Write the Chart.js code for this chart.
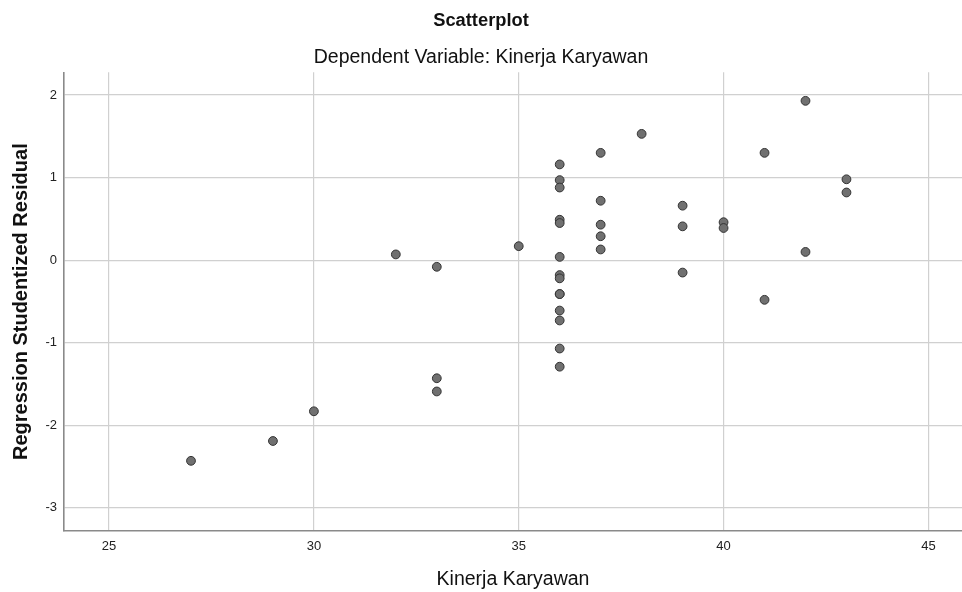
<!DOCTYPE html>
<html lang="id">
<head>
  <meta charset="UTF-8" />
  <title>Scatterplot</title>
  <script src="https://cdn.jsdelivr.net/npm/chart.js"></script>
  <style>
    html, body { margin: 0; padding: 0; background: #fff; }
    #wrap { width: 962px; height: 592px; }
  </style>
</head>
<body>
  <div id="wrap"><canvas id="myChart" width="962" height="592"></canvas></div>

  <script>
    // data
    var kinerja = [27, 29, 30, 32, 33, 33, 33, 35,
      36, 36, 36, 36, 36, 36, 36, 36, 36, 36, 36, 36, 36, 36,
      37, 37, 37, 37, 37, 38, 39, 39, 39, 40, 40, 41, 41, 42, 42, 43, 43];
    var residual = [-2.43, -2.19, -1.83, 0.07, -0.08, -1.43, -1.59, 0.17,
      1.16, 0.97, 0.88, 0.49, 0.45, 0.04, -0.18, -0.22, -0.41, -0.41, -0.61, -0.73, -1.07, -1.29,
      1.30, 0.72, 0.43, 0.29, 0.13, 1.53, 0.66, 0.41, -0.15, 0.46, 0.39, 1.30, -0.48, 1.93, 0.10, 0.98, 0.82];
    var xTicks = [25, 30, 35, 40, 45];
    var yTicks = [2, 1, 0, -1, -2, -3];

    var titleText = 'Scatterplot';
    var subtitleText = 'Dependent Variable: Kinerja Karyawan';
    var xTitle = 'Kinerja Karyawan';
    var yTitle = 'Regression Studentized Residual';

    var points = [];
    for (var i = 0; i < kinerja.length; i++) {
      points.push({ x: kinerja[i], y: residual[i] });
    }

    var font = 'Arial, "Liberation Sans", sans-serif';
    Chart.defaults.font.family = font;
    Chart.defaults.color = '#222';

    const ctx = document.getElementById('myChart');
    new Chart(ctx, {
      type: 'scatter',
      data: {
        datasets: [{
          data: points,
          backgroundColor: '#707070',
          borderColor: '#333333',
          borderWidth: 1,
          pointRadius: 4.4,
          pointHoverRadius: 4.4
        }]
      },
      options: {
        responsive: false,
        animation: false,
        devicePixelRatio: 1,
        layout: { padding: 0, autoPadding: false },
        plugins: {
          legend: { display: false },
          tooltip: { enabled: false },
          title: {
            display: true,
            text: titleText,
            color: '#111',
            font: { size: 18.3, weight: 'bold' },
            padding: { top: 10, bottom: 14 }
          },
          subtitle: {
            display: true,
            text: subtitleText,
            color: '#111',
            font: { size: 19.5, weight: 'normal' },
            padding: { top: 0, bottom: 3 }
          }
        },
        scales: {
          x: {
            type: 'linear',
            min: 23.9,
            max: 45.82,
            afterBuildTicks: function (scale) {
              scale.ticks = xTicks.map(function (v) { return { value: v }; });
            },
            afterFit: function (scale) {
              scale.height = 61;
              scale.paddingLeft = 0;
              scale.paddingRight = 0;
            },
            grid: { color: '#d0d0d0', lineWidth: 1.2, drawTicks: false },
            border: { color: '#8a8a8a', width: 1.6 },
            ticks: { color: '#222', font: { size: 13 }, padding: 8, maxRotation: 0 },
            title: {
              display: true,
              text: xTitle,
              color: '#111',
              font: { size: 19.5 },
              padding: { top: 0, bottom: 1 }
            }
          },
          y: {
            type: 'linear',
            min: -3.28,
            max: 2.275,
            afterBuildTicks: function (scale) {
              scale.ticks = yTicks.map(function (v) { return { value: v }; });
            },
            afterFit: function (scale) {
              scale.width = 64;
              scale.paddingTop = 0;
              scale.paddingBottom = 0;
            },
            grid: { color: '#d0d0d0', lineWidth: 1.2, drawTicks: false },
            border: { color: '#8a8a8a', width: 1.6 },
            ticks: { color: '#222', font: { size: 13 }, padding: 7 },
            title: {
              display: true,
              text: yTitle,
              color: '#111',
              font: { size: 20, weight: 'bold' },
              padding: { top: 9.5, bottom: 0 }
            }
          }
        }
      }
    });
  </script>
</body>
</html>
